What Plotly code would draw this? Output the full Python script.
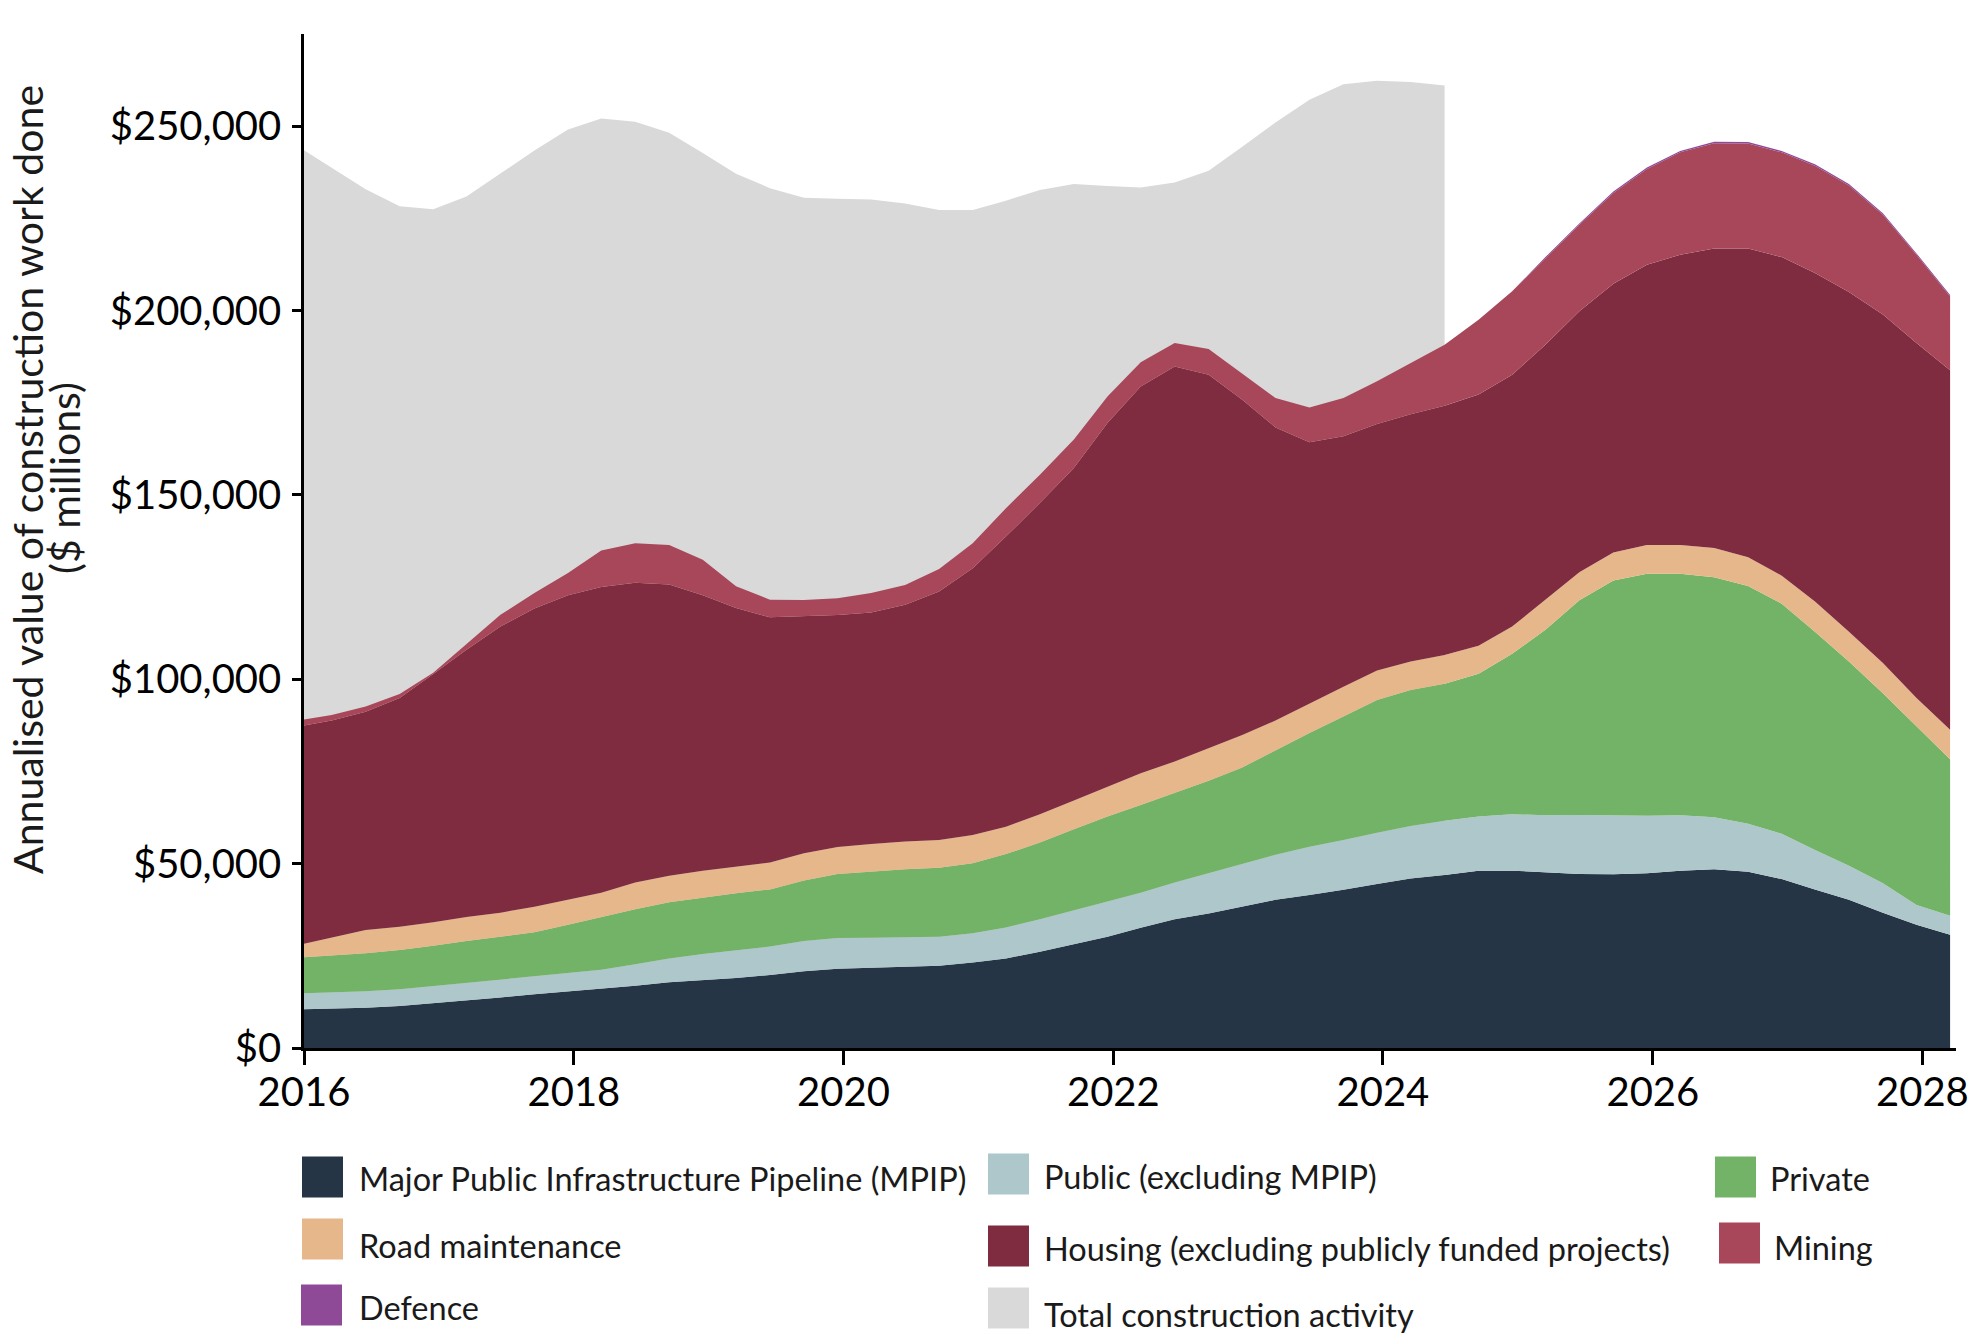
import plotly.graph_objects as go

# ---------------- data ($ millions, quarterly, plotted mid quarter-end month) ----------------
quarters = ["2015-12-16", "2016-03-16", "2016-06-16", "2016-09-16",
            "2016-12-16", "2017-03-16", "2017-06-16", "2017-09-16",
            "2017-12-16", "2018-03-16", "2018-06-16", "2018-09-16",
            "2018-12-16", "2019-03-16", "2019-06-16", "2019-09-16",
            "2019-12-16", "2020-03-16", "2020-06-16", "2020-09-16",
            "2020-12-16", "2021-03-16", "2021-06-16", "2021-09-16",
            "2021-12-16", "2022-03-16", "2022-06-16", "2022-09-16",
            "2022-12-16", "2023-03-16", "2023-06-16", "2023-09-16",
            "2023-12-16", "2024-03-16", "2024-06-16", "2024-09-16",
            "2024-12-16", "2025-03-16", "2025-06-16", "2025-09-16",
            "2025-12-16", "2026-03-16", "2026-06-16", "2026-09-16",
            "2026-12-16", "2027-03-16", "2027-06-16", "2027-09-16",
            "2027-12-16", "2028-03-16"]

mpip = [10500, 10600, 10900, 11400, 12100, 13000, 13700, 14600, 15300, 16000,
        16900, 17800, 18300, 19000, 19800, 20800, 21500, 21800, 22100, 22300,
        23200, 24300, 26100, 28100, 30200, 32600, 34900, 36500, 38300, 40200,
        41500, 42900, 44500, 46000, 46900, 48100, 48100, 47700, 47200, 47100,
        47400, 48100, 48500, 47800, 45800, 43000, 40200, 36700, 33400, 30700]

public = [4300, 4400, 4500, 4500, 4700, 4700, 4900, 4900, 5000, 5200,
          5800, 6500, 7200, 7400, 7700, 8200, 8300, 8100, 7900, 7900,
          7900, 8400, 8800, 9200, 9500, 9500, 10000, 10900, 11500, 12200,
          13100, 13500, 13900, 14200, 14700, 14700, 15300, 15400, 16000, 15900,
          15600, 15000, 14100, 13000, 12300, 10700, 9200, 8000, 5400, 5200]

private = [9700, 10000, 10300, 10700, 10900, 11300, 11600, 11900, 13100, 14300,
           14900, 15200, 15200, 15600, 15500, 16400, 17400, 17900, 18500, 18700,
           19000, 19900, 20800, 22000, 23100, 23800, 24200, 25100, 26300, 28400,
           30800, 33500, 36000, 36900, 37200, 38700, 43500, 50300, 58200, 63800,
           65600, 65500, 65100, 64500, 62400, 59200, 55400, 51500, 48400, 42400]

road = [3400, 5000, 6300, 6300, 6400, 6500, 6500, 6900, 6800, 6600,
        7300, 7200, 7400, 7200, 7300, 7400, 7300, 7500, 7500, 7500,
        7700, 7400, 7700, 7800, 8100, 8600, 8600, 8800, 8800, 8000,
        8100, 8100, 8000, 7700, 7800, 7600, 7400, 8100, 7600, 7600,
        7800, 7800, 7900, 7800, 7600, 8200, 8100, 8200, 7700, 8000]

housing = [59300, 58800, 59200, 62000, 67300, 72500, 77600, 80900, 82600, 82900,
           81300, 79000, 74700, 70100, 66500, 64200, 62900, 62800, 64200, 67400,
           72300, 78700, 84400, 90200, 98600, 104900, 107100, 101300, 90900, 79500,
           70800, 67900, 66800, 67100, 67600, 68100, 68300, 69200, 70800, 72900,
           76000, 78700, 81200, 83700, 86400, 89100, 92100, 94500, 96300, 97500]

mining = [1600, 1500, 1400, 1100, 400, 1600, 3200, 4200, 6000, 9900,
          10700, 10700, 9600, 5900, 4800, 4500, 4600, 5300, 5400, 6100,
          6800, 7700, 7700, 7700, 7200, 6600, 6400, 7000, 7200, 8000,
          9400, 10400, 11600, 13900, 16500, 20300, 22600, 23500, 23500, 24600,
          26000, 27800, 28600, 28500, 28400, 29100, 28900, 27100, 23900, 20000]

defence = [0, 0, 0, 0, 0, 0, 0, 0, 0, 0,
           0, 0, 0, 0, 0, 0, 0, 0, 0, 0,
           0, 0, 0, 0, 0, 0, 0, 0, 0, 0,
           0, 0, 0, 0, 0, 0, 0, 300, 300, 400,
           400, 400, 400, 400, 400, 400, 400, 400, 400, 400]

total_quarters = quarters[:35]
total = [244500, 238700, 232900, 228300, 227500, 230900, 237200, 243400, 249100, 252100,
         251200, 248200, 242700, 237100, 233200, 230600, 230300, 230100, 229000, 227300,
         227300, 229800, 232700, 234300, 233800, 233400, 234700, 237900, 244400, 251000,
         257200, 261400, 262300, 262000, 261000]

x_ticks = ["2016-01-01", "2018-01-01", "2020-01-01", "2022-01-01",
           "2024-01-01", "2026-01-01", "2028-01-01"]
x_ticktext = ["2016", "2018", "2020", "2022", "2024", "2026", "2028"]
y_ticks = [0, 50000, 100000, 150000, 200000, 250000]
y_ticktext = ["$0", "$50,000", "$100,000", "$150,000", "$200,000", "$250,000"]

series_names = ["Major Public Infrastructure Pipeline (MPIP)", "Public (excluding MPIP)",
                "Private", "Road maintenance",
                "Housing (excluding publicly funded projects)", "Mining", "Defence"]
total_name = "Total construction activity"

# ---------------- styles ----------------
FONT = "Lato"
TEXT = "#1a1a1a"
colors = {
    series_names[0]: "#253545",
    series_names[1]: "#adc7cb",
    series_names[2]: "#73b368",
    series_names[3]: "#e6b78a",
    series_names[4]: "#7f2c40",
    series_names[5]: "#a8475a",
    series_names[6]: "#8e4a97",
    total_name: "#d9d9d9",
}

W, H = 1985, 1336
PL, PR, PT, PB = 304, 1956, 34, 1048


def px(X):
    return (X - PL) / (PR - PL)


def py(Y):
    return (PB - Y) / (PB - PT)


fig = go.Figure()

fig.add_trace(go.Scatter(
    x=total_quarters, y=total, name=total_name, mode="lines",
    line=dict(width=0, color=colors[total_name]), fill="tozeroy",
    fillcolor=colors[total_name], showlegend=False))

for name, vals in zip(series_names, [mpip, public, private, road, housing, mining, defence]):
    fig.add_trace(go.Scatter(
        x=quarters, y=vals, name=name, mode="lines", stackgroup="one",
        line=dict(width=0, color=colors[name]), fillcolor=colors[name],
        showlegend=False))

# ---------------- legend (swatch + text), laid out as in the original ----------------
legend_items = [
    # name, swatch left X, swatch centre Y, text left X, text centre Y (pixels)
    (series_names[0], 302, 1177, 357, 1179),
    (series_names[3], 302, 1239, 357, 1246),
    (series_names[6], 301, 1305, 357, 1307),
    (series_names[1], 988, 1174, 1042, 1176),
    (series_names[4], 988, 1246, 1042, 1248),
    (total_name, 988, 1308, 1042, 1314),
    (series_names[2], 1715, 1177, 1768, 1179),
    (series_names[5], 1719, 1243, 1772, 1247),
]
SW = 41
shapes = []
annotations = []
for name, sx, sy, tx, ty in legend_items:
    shapes.append(dict(type="rect", xref="paper", yref="paper",
                       x0=px(sx), x1=px(sx + SW), y0=py(sy + SW / 2), y1=py(sy - SW / 2),
                       fillcolor=colors[name], line=dict(width=0)))
    annotations.append(dict(text=name, xref="paper", yref="paper",
                            x=px(tx), y=py(ty), xanchor="left", yanchor="middle",
                            showarrow=False, font=dict(family=FONT, size=32.5, color=TEXT)))

# y-axis title (two lines)
annotations.append(dict(text="Annualised value of construction work done",
                        xref="paper", yref="paper", x=px(27), y=py(480),
                        xanchor="center", yanchor="middle", textangle=-90, showarrow=False,
                        font=dict(family=FONT, size=41, color=TEXT)))
annotations.append(dict(text="($ millions)",
                        xref="paper", yref="paper", x=px(64), y=py(478),
                        xanchor="center", yanchor="middle", textangle=-90, showarrow=False,
                        font=dict(family=FONT, size=41, color=TEXT)))

fig.update_layout(
    width=W, height=H,
    margin=dict(l=PL, r=W - PR, t=PT, b=H - PB),
    paper_bgcolor="white", plot_bgcolor="white",
    font=dict(family=FONT, color="#000000"),
    showlegend=False,
    shapes=shapes, annotations=annotations,
    xaxis=dict(type="date", range=["2016-01-01", "2028-04-01"],
               tickvals=x_ticks, ticktext=x_ticktext,
               showgrid=False, zeroline=False, showline=True, linecolor="black",
               linewidth=2.5, ticks="outside", ticklen=14, tickwidth=2.5, tickcolor="black",
               ticklabelstandoff=-7,
               tickfont=dict(family=FONT, size=40, color="black")),
    yaxis=dict(range=[0, 275000], tickvals=y_ticks, ticktext=y_ticktext,
               showgrid=False, zeroline=False, showline=True, linecolor="black",
               linewidth=2.5, ticks="outside", ticklen=9, tickwidth=2.5, tickcolor="black",
               ticklabelstandoff=3,
               tickfont=dict(family=FONT, size=40, color="black")),
)

fig.write_html("out.html", config={"displayModeBar": False},
               post_script="document.body.style.margin='0px';")
